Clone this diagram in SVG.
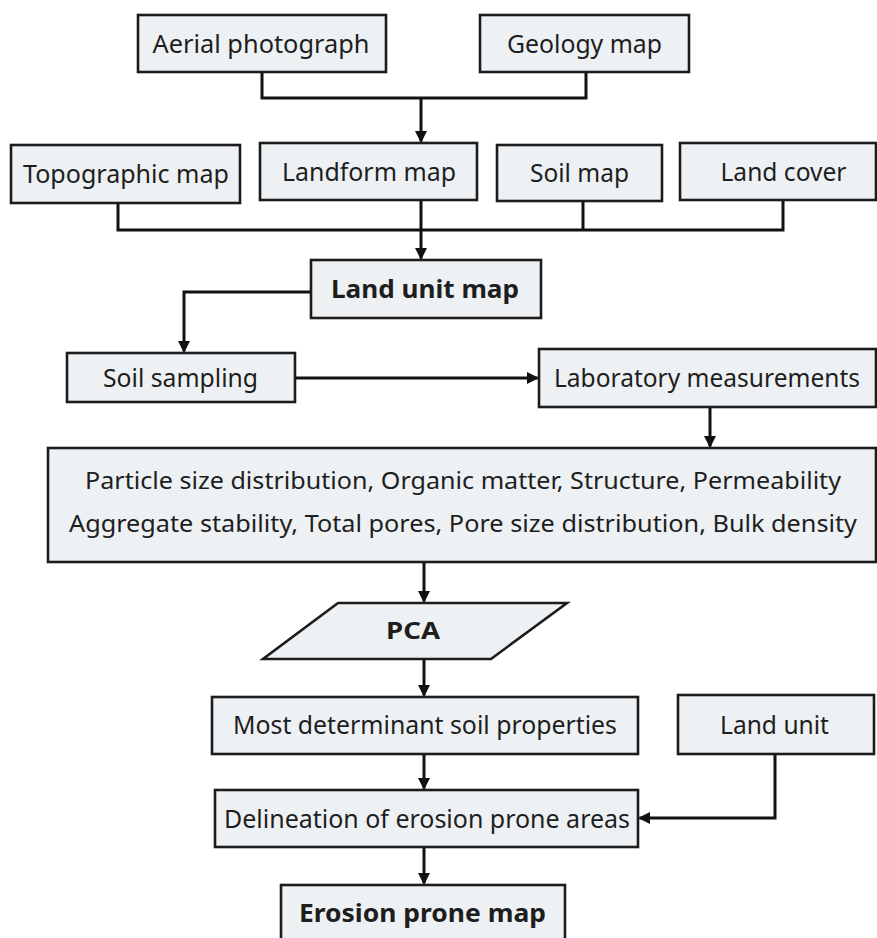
<svg xmlns="http://www.w3.org/2000/svg" width="877" height="938" viewBox="0 0 877 938">
<style>
  .box { fill: #eef1f3; stroke: #1c1c1c; stroke-width: 2.6; }
  .t { font-family: "Noto Sans", "Open Sans", "Liberation Sans", sans-serif; font-size: 25px; fill: #1e1e1e; text-anchor: middle; }
  .b { font-weight: bold; }
  .s { font-size: 24px; }
  .con { fill: none; stroke: #111; stroke-width: 3; stroke-linejoin: miter; }
</style>
<defs>
  <marker id="arr" markerUnits="userSpaceOnUse" markerWidth="12" markerHeight="12" refX="10.5" refY="6" orient="auto">
    <path d="M0,0 L12,6 L0,12 z" fill="#111"/>
  </marker>
</defs>
<rect width="877" height="938" fill="#ffffff"/>

<g id="connectors">
  <path class="con" d="M262,72 V98 H586 V72"/>
  <path class="con" d="M421,98 V141.5" marker-end="url(#arr)"/>
  <path class="con" d="M118,203 V230 H783 V200"/>
  <path class="con" d="M583,201 V230"/>
  <path class="con" d="M421,200 V258.5" marker-end="url(#arr)"/>
  <path class="con" d="M311,292 H184 V351.5" marker-end="url(#arr)"/>
  <path class="con" d="M295,378 H537.5" marker-end="url(#arr)"/>
  <path class="con" d="M710,407 V446.5" marker-end="url(#arr)"/>
  <path class="con" d="M424,562 V601.5" marker-end="url(#arr)"/>
  <path class="con" d="M424,659 V695.5" marker-end="url(#arr)"/>
  <path class="con" d="M424,754 V788.5" marker-end="url(#arr)"/>
  <path class="con" d="M775,754 V818 H639.5" marker-end="url(#arr)"/>
  <path class="con" d="M424,847 V883.5" marker-end="url(#arr)"/>
</g>

<g id="aerial-photograph">
  <rect class="box" x="138" y="15" width="248" height="57"/>
  <text class="t" x="261" y="53" textLength="217" lengthAdjust="spacingAndGlyphs">Aerial photograph</text>
</g>
<g id="geology-map">
  <rect class="box" x="480" y="15" width="209" height="57"/>
  <text class="t" x="584.5" y="53" textLength="155" lengthAdjust="spacingAndGlyphs">Geology map</text>
</g>
<g id="topographic-map">
  <rect class="box" x="11" y="145" width="229" height="58"/>
  <text class="t" x="126" y="183" textLength="206" lengthAdjust="spacingAndGlyphs">Topographic map</text>
</g>
<g id="landform-map">
  <rect class="box" x="260" y="143" width="217" height="57"/>
  <text class="t" x="369" y="181" textLength="174" lengthAdjust="spacingAndGlyphs">Landform map</text>
</g>
<g id="soil-map">
  <rect class="box" x="497" y="145" width="165" height="56"/>
  <text class="t" x="579.5" y="182" textLength="99" lengthAdjust="spacingAndGlyphs">Soil map</text>
</g>
<g id="land-cover">
  <rect class="box" x="680" y="143" width="196" height="57"/>
  <text class="t" x="783.5" y="181" textLength="126" lengthAdjust="spacingAndGlyphs">Land cover</text>
</g>
<g id="land-unit-map">
  <rect class="box" x="311" y="260" width="230" height="58"/>
  <text class="t b" x="425" y="298" textLength="188" lengthAdjust="spacingAndGlyphs">Land unit map</text>
</g>
<g id="soil-sampling">
  <rect class="box" x="67" y="353" width="228" height="49"/>
  <text class="t" x="180.5" y="387" textLength="155" lengthAdjust="spacingAndGlyphs">Soil sampling</text>
</g>
<g id="laboratory-measurements">
  <rect class="box" x="539" y="349" width="337" height="58"/>
  <text class="t" x="707" y="387" textLength="306" lengthAdjust="spacingAndGlyphs">Laboratory measurements</text>
</g>
<g id="soil-properties">
  <rect class="box" x="48" y="448" width="828" height="114"/>
  <text class="t s" x="463" y="489" textLength="756" lengthAdjust="spacingAndGlyphs">Particle size distribution, Organic matter, Structure, Permeability</text>
  <text class="t s" x="463" y="532" textLength="788" lengthAdjust="spacingAndGlyphs">Aggregate stability, Total pores, Pore size distribution, Bulk density</text>
</g>
<g id="pca">
  <polygon class="box" points="338,603 567,603 491,659 263,659"/>
  <text class="t b s" x="413" y="639" textLength="54" lengthAdjust="spacingAndGlyphs">PCA</text>
</g>
<g id="most-determinant">
  <rect class="box" x="212" y="697" width="426" height="57"/>
  <text class="t" x="425" y="734" textLength="384" lengthAdjust="spacingAndGlyphs">Most determinant soil properties</text>
</g>
<g id="land-unit">
  <rect class="box" x="678" y="695" width="196" height="59"/>
  <text class="t" x="774.5" y="734" textLength="109" lengthAdjust="spacingAndGlyphs">Land unit</text>
</g>
<g id="delineation">
  <rect class="box" x="215" y="790" width="423" height="57"/>
  <text class="t" x="427" y="828" textLength="406" lengthAdjust="spacingAndGlyphs">Delineation of erosion prone areas</text>
</g>
<g id="erosion-prone-map">
  <rect class="box" x="281" y="885" width="284" height="70"/>
  <text class="t b" x="422.5" y="922" textLength="247" lengthAdjust="spacingAndGlyphs">Erosion prone map</text>
</g>
</svg>
